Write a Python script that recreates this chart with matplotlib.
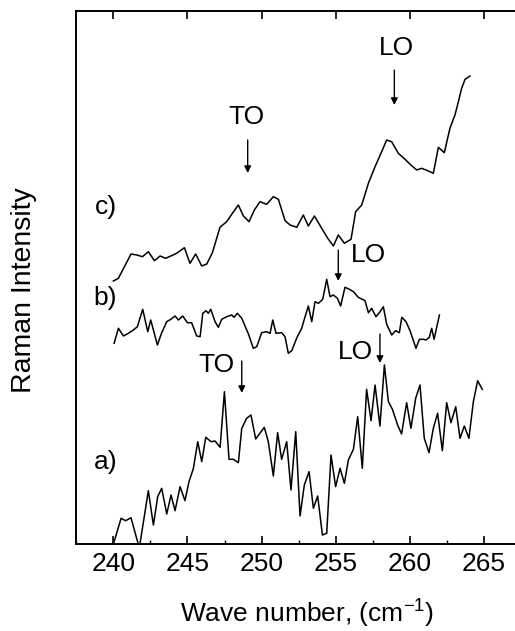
import matplotlib
matplotlib.use('Agg')
import matplotlib.pyplot as plt
import numpy as np
from matplotlib.ticker import MultipleLocator

plt.rcParams['font.family'] = ['Liberation Sans', 'DejaVu Sans']
plt.rcParams['mathtext.fontset'] = 'custom'
plt.rcParams['mathtext.rm'] = 'Liberation Sans'

# spectrum a)
wn_a = [240.00, 240.12, 240.52, 240.83, 241.19, 241.75, 242.36, 242.70, 242.99, 243.26,
        243.60, 243.89, 244.16, 244.50, 244.83, 245.10, 245.40, 245.69, 245.96, 246.23,
        246.59, 246.86, 247.20, 247.49, 247.80, 248.09, 248.43, 248.66, 248.99, 249.28,
        249.60, 250.18, 250.45, 250.79, 251.08, 251.35, 251.69, 251.98, 252.30, 252.59,
        252.88, 253.20, 253.49, 253.78, 254.10, 254.39, 254.68, 254.99, 255.29, 255.58,
        255.85, 256.19, 256.48, 256.79, 257.08, 257.38, 257.65, 257.98, 258.28, 258.55,
        258.82, 259.17, 259.44, 259.78, 260.07, 260.39, 260.68, 260.97, 261.29, 261.58,
        261.87, 262.19, 262.48, 262.77, 263.09, 263.38, 263.67, 263.98, 264.28, 264.57,
        264.88]
int_a = [0.0, 5.7, 25.7, 23.3, 26.3, -4.0, 53.3, 19.0, 47.3, 55.7,
         30.0, 49.0, 33.3, 57.3, 43.3, 62.3, 75.7, 102.3, 82.3, 106.7,
         102.3, 103.0, 96.7, 152.3, 84.7, 84.7, 81.3, 115.7, 125.7, 129.0,
         105.0, 116.7, 102.3, 68.0, 111.3, 84.7, 102.3, 54.0, 112.3, 28.0,
         59.0, 72.3, 35.7, 48.0, 9.0, 10.7, 89.0, 57.3, 75.7, 60.7,
         84.0, 94.7, 127.3, 75.7, 154.7, 123.3, 159.0, 118.0, 179.0, 142.3,
         134.7, 119.0, 110.0, 141.3, 115.7, 145.7, 159.0, 105.7, 91.3, 115.7,
         130.7, 93.3, 141.3, 121.3, 137.3, 105.7, 118.0, 105.7, 142.3, 163.3,
         154.7]

# spectrum b)
wn_b = [240.05, 240.34, 240.68, 241.01, 241.35, 241.62, 241.98, 242.32, 242.52, 242.97,
        243.26, 243.60, 243.87, 244.16, 244.39, 244.68, 244.99, 245.28, 245.62, 245.85,
        246.03, 246.25, 246.41, 246.57, 246.86, 247.08, 247.31, 247.64, 247.98, 248.14,
        248.36, 248.66, 249.11, 249.44, 249.67, 250.00, 250.34, 250.57, 250.75, 250.97,
        251.35, 251.58, 251.80, 252.03, 252.36, 252.70, 252.93, 253.15, 253.38, 253.60,
        253.83, 254.12, 254.39, 254.61, 254.84, 255.11, 255.33, 255.62, 255.92, 256.19,
        256.52, 256.97, 257.20, 257.42, 257.71, 257.94, 258.21, 258.43, 258.77, 259.04,
        259.29, 259.45, 259.74, 260.01, 260.41, 260.64, 260.91, 261.09, 261.31, 261.47,
        261.63, 261.99]
int_b = [200.7, 215.7, 208.0, 210.7, 214.0, 217.3, 234.7, 212.3, 224.0, 199.0,
         211.3, 222.3, 224.7, 228.0, 224.0, 228.0, 221.3, 221.3, 208.0, 207.3,
         230.7, 233.3, 230.7, 234.7, 222.3, 216.7, 224.7, 227.3, 229.0, 226.7,
         230.7, 225.7, 210.0, 195.7, 197.3, 211.3, 212.3, 210.7, 224.0, 210.7,
         211.3, 207.3, 190.7, 193.3, 205.7, 215.7, 227.3, 238.0, 222.3, 242.3,
         240.7, 244.7, 264.7, 247.3, 249.0, 245.7, 238.0, 256.7, 254.7, 252.3,
         246.7, 243.3, 231.3, 235.7, 227.3, 231.3, 237.3, 220.0, 209.0, 213.3,
         211.3, 226.7, 222.3, 213.3, 195.7, 204.7, 204.7, 204.0, 206.7, 215.7,
         204.7, 229.0]

# spectrum c)
wn_c = [240.00, 240.34, 241.19, 241.58, 241.96, 242.36, 242.77, 243.15, 243.53, 244.27,
        244.79, 245.17, 245.55, 245.96, 246.30, 246.68, 247.19, 247.64, 248.03, 248.43,
        248.77, 249.15, 249.51, 249.89, 250.34, 250.79, 251.13, 251.58, 251.92, 252.37,
        252.81, 253.15, 253.56, 254.05, 254.46, 254.84, 255.17, 255.58, 256.03, 256.34,
        256.75, 257.20, 257.65, 258.05, 258.43, 258.77, 259.22, 259.67, 260.07, 260.46,
        260.79, 261.20, 261.58, 261.92, 262.32, 262.70, 263.04, 263.27, 263.49, 263.72,
        264.05]
int_c = [263.0, 265.7, 290.0, 289.0, 287.3, 292.3, 283.3, 288.0, 285.7, 290.7,
         296.3, 280.7, 290.0, 278.0, 280.0, 291.3, 316.7, 322.3, 330.7, 339.0,
         328.0, 322.3, 334.0, 342.3, 339.7, 347.3, 344.7, 323.3, 319.0, 316.7,
         329.0, 318.0, 328.0, 315.7, 305.7, 298.0, 309.0, 300.7, 304.7, 332.3,
         339.0, 360.7, 377.3, 390.7, 404.0, 402.3, 390.7, 384.7, 379.0, 374.0,
         375.7, 373.3, 370.7, 396.7, 391.3, 415.7, 429.0, 442.3, 455.7, 464.7,
         468.0]

curve_labels = ['a)', 'b)', 'c)']
curve_label_y = [82, 246, 337]

# peak markers: (text, text x, text y, arrow x, arrow top, arrow bottom)
peaks = [
    ('TO', 246.97, 179, 248.66, 183, 151),
    ('LO', 256.3, 192, 257.98, 210, 181),
    ('LO', 257.2, 289, 255.17, 294, 263),
    ('TO', 249.0, 427, 249.06, 404, 371),
    ('LO', 259.06, 496, 258.95, 474, 439),
]

fs = 19
fig = plt.figure(figsize=(5.15, 6.31), dpi=100)
# the frame runs past the right edge of the picture
ax = fig.add_axes([76/515, 87/631, 462/515, 533/631])

for wn, inten in [(wn_a, int_a), (wn_b, int_b), (wn_c, int_c)]:
    ax.plot(wn, inten, color='black', lw=1.1)

for lab, yy in zip(curve_labels, curve_label_y):
    ax.text(240.25, yy, lab, ha='right', va='center', fontsize=fs)

for txt, tx, ty, axx, ytop, ybot in peaks:
    ax.text(tx, ty, txt, ha='center', va='center', fontsize=fs)
    ax.annotate('', xy=(axx, ybot), xytext=(axx, ytop),
                arrowprops=dict(arrowstyle='-|>', color='black', lw=1.0,
                                mutation_scale=10, shrinkA=0, shrinkB=0))

ax.set_xlim(237.48, 268.64)
ax.set_ylim(0, 533)
ax.set_yticks([])
ax.spines['right'].set_visible(False)
for s in ['left', 'top', 'bottom']:
    ax.spines[s].set_linewidth(1.4)

ax.xaxis.set_major_locator(MultipleLocator(5))
ax.xaxis.set_minor_locator(MultipleLocator(2.5))
ax.tick_params(axis='x', which='major', direction='in', length=6, width=1.2,
               labelsize=fs, top=True, pad=6)
ax.tick_params(axis='x', which='minor', direction='in', length=3, width=1.0,
               top=False)

ax.set_xlabel('Wave number, (cm$^{\\mathregular{-1}}$)', fontsize=fs, va='center')
ax.xaxis.set_label_coords(0.5, -0.129)
ax.set_ylabel('Raman Intensity', fontsize=20.5, va='center')
ax.yaxis.set_label_coords(-0.1126, 0.4765)

plt.savefig('out.png', dpi=100)
